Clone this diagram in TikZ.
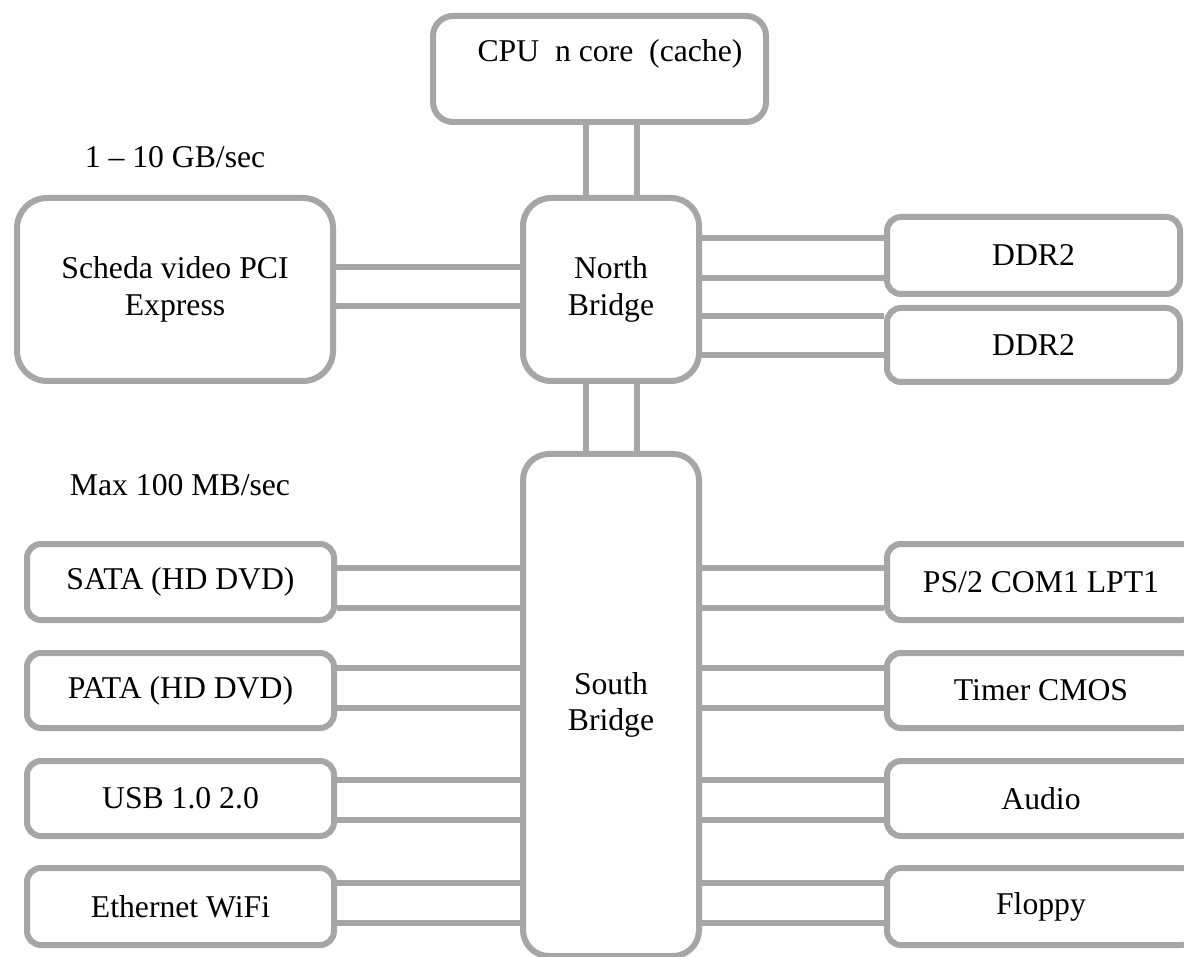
\documentclass[tikz,border=0pt]{standalone}
\usepackage{fontspec}
\setmainfont{Liberation Serif}
\definecolor{linegray}{HTML}{A6A6A6}
\tikzset{
  txt/.style={inner sep=0pt, align=center, font=\fontsize{31.7}{36.5}\selectfont},
  box/.style={txt, draw=linegray, line width=6pt, fill=white},
  bigbox/.style={box, rounded corners=28pt},
  smallbox/.style={box, rounded corners=14pt},
  link/.style={draw=linegray, line width=6pt},
}
\newcommand{\hlink}[3]{\draw[link] (#1.east |- 0,#3) -- (#2.west |- 0,#3);}
\begin{document}
\begin{tikzpicture}[x=1pt,y=-1pt]
\useasboundingbox (0,0) rectangle (1184,957);
\clip (0,0) rectangle (1184,957);
\fill[white] (0,0) rectangle (1184,957);

% main nodes
\node[box, rounded corners=20pt, minimum width=333pt, minimum height=106pt] (cpu) at (599.5,69) {\hspace*{21pt}CPU~~n core~~(cache)\\~};
\node[bigbox, minimum width=176pt, minimum height=183pt] (nb) at (611,289.5) {North\\Bridge};
\node[bigbox, rounded corners=30pt, minimum width=316pt, minimum height=183pt] (vga) at (175,289.5) {Scheda video PCI\\Express};
\node[smallbox, minimum width=293pt, minimum height=77pt] (ddra) at (1033.5,255.5) {DDR2};
\node[smallbox, minimum width=293pt, minimum height=74pt] (ddrb) at (1033.5,345) {DDR2};
\node[bigbox, rounded corners=26pt, minimum width=176pt, minimum height=502pt] (sb) at (611,705) {South\\Bridge};

% left column
\node[smallbox, minimum width=307pt, minimum height=76pt] (sata) at (180.5,582) {SATA (HD DVD)};
\node[smallbox, minimum width=307pt, minimum height=75pt] (pata) at (180.5,690.5) {PATA (HD DVD)};
\node[smallbox, minimum width=307pt, minimum height=75pt] (usb) at (180.5,798.5) {USB 1.0 2.0};
\node[smallbox, minimum width=307pt, minimum height=77pt] (eth) at (180.5,906.5) {Ethernet WiFi};

% right column
\node[smallbox, minimum width=308pt, minimum height=76pt] (ps2) at (1041,582) {PS/2 COM1 LPT1};
\node[smallbox, minimum width=308pt, minimum height=75pt] (timer) at (1041,690.5) {Timer CMOS};
\node[smallbox, minimum width=308pt, minimum height=75pt] (audio) at (1041,798.5) {Audio};
\node[smallbox, minimum width=308pt, minimum height=77pt] (floppy) at (1041,906.5) {Floppy};

% labels
\node[txt] (lblfast) at (175,157) {1 -- 10 GB/sec};
\node[txt] (lblslow) at (180,485) {Max 100 MB/sec};

% vertical buses
\draw[link] (cpu.south -| 586,0) -- (nb.north -| 586,0);
\draw[link] (cpu.south -| 637,0) -- (nb.north -| 637,0);
\draw[link] (nb.south -| 586,0) -- (sb.north -| 586,0);
\draw[link] (nb.south -| 637,0) -- (sb.north -| 637,0);

% horizontal buses
\hlink{vga}{nb}{267}
\hlink{vga}{nb}{306}
\hlink{nb}{ddra}{238}
\hlink{nb}{ddra}{278}
\hlink{nb}{ddrb}{316}
\hlink{nb}{ddrb}{355}

\hlink{sata}{sb}{568}
\hlink{sata}{sb}{608}
\hlink{pata}{sb}{668}
\hlink{pata}{sb}{708}
\hlink{usb}{sb}{780}
\hlink{usb}{sb}{820}
\hlink{eth}{sb}{883}
\hlink{eth}{sb}{923}

\hlink{sb}{ps2}{568}
\hlink{sb}{ps2}{608}
\hlink{sb}{timer}{668}
\hlink{sb}{timer}{708}
\hlink{sb}{audio}{780}
\hlink{sb}{audio}{820}
\hlink{sb}{floppy}{883}
\hlink{sb}{floppy}{923}
\end{tikzpicture}
\end{document}
